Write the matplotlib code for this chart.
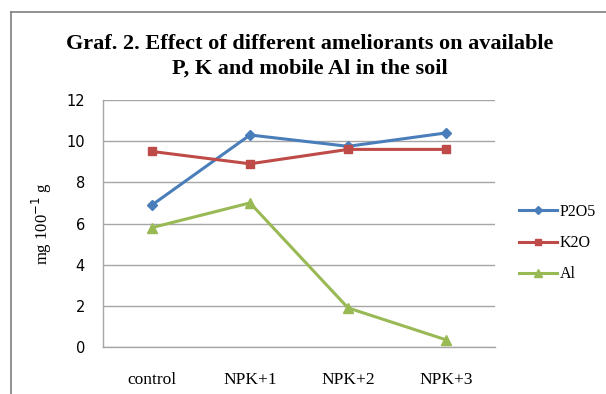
import matplotlib
matplotlib.use("Agg")
import matplotlib.pyplot as plt
from matplotlib.lines import Line2D

categories = ["control", "NPK+1", "NPK+2", "NPK+3"]
p2o5 = [6.9, 10.3, 9.75, 10.4]
k2o = [9.5, 8.9, 9.6, 9.6]
al = [5.8, 7.0, 1.9, 0.35]
series_names = ["P2O5", "K2O", "Al"]
y_ticks = [0, 2, 4, 6, 8, 10, 12]

serif = "Liberation Serif"
sans = "DejaVu Sans"

fig = plt.figure(figsize=(6.06, 3.94), dpi=100)
fig.patch.set_facecolor("white")

# chart frame (top and left edges)
fig.add_artist(Line2D([11/606, 1.0], [1 - 12/394, 1 - 12/394], transform=fig.transFigure,
                      color="#7f7f7f", lw=1.2))
fig.add_artist(Line2D([11/606, 11/606], [0, 1 - 12/394], transform=fig.transFigure,
                      color="#7f7f7f", lw=1.2))

ax = fig.add_axes([103/606, 1 - 347/394, (495 - 103)/606, (347 - 100)/394])
x = list(range(len(categories)))

styles = [
    (p2o5, "#4a7ebb", "D", 5),
    (k2o, "#be4b48", "s", 6),
    (al, "#98b954", "^", 7),
]
handles = []
for (vals, col, mk, ms), name in zip(styles, series_names):
    h, = ax.plot(x, vals, color=col, lw=2.2, marker=mk, markersize=ms,
                 markerfacecolor=col, markeredgecolor=col, label=name, zorder=3)
    handles.append(h)

ax.set_xlim(-0.5, len(categories) - 0.5)
ax.set_ylim(0, 12)
ax.set_yticks(y_ticks)
ax.set_yticklabels([str(v) for v in y_ticks], fontfamily=sans, fontsize=10.5)
ax.set_xticks(x)
ax.set_xticklabels(categories, fontfamily=serif, fontsize=12.5)
ax.tick_params(axis="y", length=0, pad=13)
ax.tick_params(axis="x", length=0, pad=18)
ax.yaxis.grid(True, color="#a6a6a6", lw=1)
ax.set_axisbelow(True)
for s in ["top", "right"]:
    ax.spines[s].set_visible(False)
for s in ["left", "bottom"]:
    ax.spines[s].set_color("#a6a6a6")
    ax.spines[s].set_linewidth(1)

ax.set_ylabel("mg 100$^{-1}$ g", fontfamily=serif, fontsize=12, labelpad=9)

fig.text(310/606, 1 - 44/394, "Graf. 2. Effect of different ameliorants on available",
         ha="center", va="center", fontfamily=serif, fontweight="bold", fontsize=16)
fig.text(310/606, 1 - 69/394, "P, K and mobile Al in the soil",
         ha="center", va="center", fontfamily=serif, fontweight="bold", fontsize=16)

leg = fig.legend(handles=handles, loc="upper left", bbox_to_anchor=(519/606, 1 - 204/394),
                 frameon=False, prop={"family": serif, "size": 11.5}, handlelength=2.4,
                 handletextpad=0.15, labelspacing=0.95, markerscale=0.75,
                 borderpad=0, borderaxespad=0)

fig.savefig("out.png", dpi=100, facecolor="white")
